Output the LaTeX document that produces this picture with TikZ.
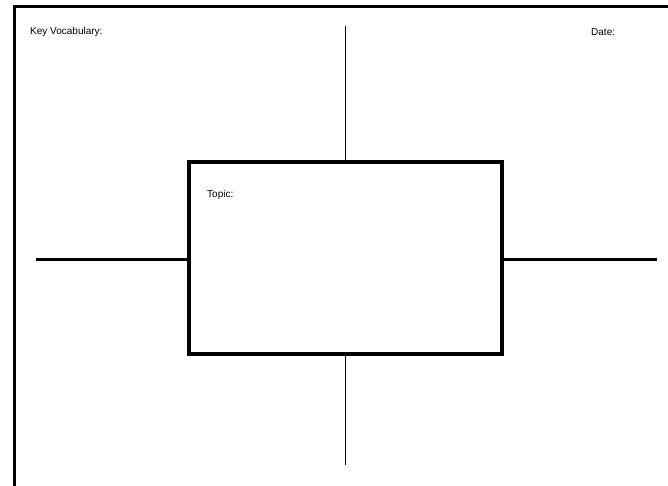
\documentclass[tikz,border=0pt]{standalone}
\usepackage{fontspec}
\setmainfont{Liberation Sans}
\begin{document}
\begin{tikzpicture}[x=1pt,y=-1pt,
  frameline/.style={line width=3pt},
  thickline/.style={line width=3pt},
  thinline/.style={line width=1.6pt},
  centerbox/.style={draw,line width=3.2pt,minimum width=313pt,minimum height=192pt,inner sep=0pt},
  lbl/.style={font=\fontsize{10}{11}\selectfont,anchor=west,inner sep=0pt}]
\useasboundingbox (0,0) rectangle (668,485);
\fill[white] (0,0) rectangle (668,485);
% frame
\coordinate (fbl) at (14,486);
\coordinate (ftl) at (14,6);
\coordinate (ftr) at (669,6);
\draw[frameline] (fbl) -- (ftl) -- (ftr);
% centre box
\node[centerbox] (box) at (345.5,258) {};
\coordinate (topend) at (345.5,26);
\coordinate (botend) at (345.5,465);
\coordinate (leftend) at (36,259);
\coordinate (rightend) at (657,259);
\draw[thinline] (topend) -- (box.north);
\draw[thinline] (box.south) -- (botend);
\draw[thickline] (leftend) -- (box.west |- leftend);
\draw[thickline] (box.east |- rightend) -- (rightend);
% texts
\node[lbl] (tl) at (30,32) {Key Vocabulary:};
\node[lbl] (tr) at (591,32) {Date:};
\node[lbl] (boxlbl) at (207,195) {Topic:};
\end{tikzpicture}
\end{document}
